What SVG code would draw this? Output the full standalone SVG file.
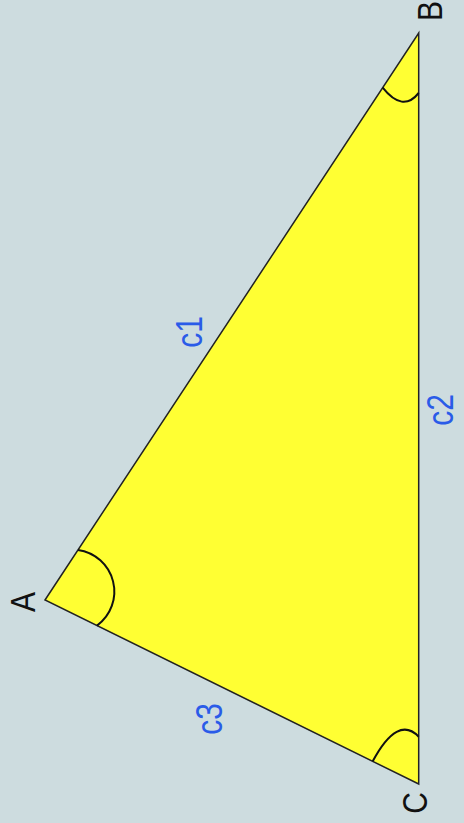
<svg xmlns="http://www.w3.org/2000/svg" width="464" height="823" viewBox="0 0 464 823">
<style>
.vl{font-family:"Liberation Sans",Arial,sans-serif;font-size:30px;fill:#111;text-anchor:middle}
.sl{font-family:"Liberation Sans",Arial,sans-serif;font-size:30px;fill:#2a5be8;text-anchor:middle}
.arc{fill:none;stroke:#111;stroke-width:2}
</style>
<rect width="464" height="823" fill="#cddcdf"/>
<g id="triangle">
<polygon points="45,600 418.7,33 418.7,784" fill="#ffff33" stroke="#222" stroke-width="1.5" stroke-linejoin="miter"/>
</g>
<g id="connectors">
<path class="arc" d="M78,550 A42,42 0 0 1 97,625.6"/>
<path class="arc" d="M382.7,87.7 Q402.7,112.9 418.7,93"/>
<path class="arc" d="M372.7,761.3 Q397.7,714.7 418.7,736.7"/>
</g>
<g id="A"><text class="vl" transform="translate(35,602) scale(1.15,1) rotate(-90)">A</text></g>
<g id="B"><text class="vl" transform="translate(442,11) scale(1.15,1) rotate(-90)">B</text></g>
<g id="C"><text class="vl" transform="translate(427,803) scale(1.15,1) rotate(-90)">C</text></g>
<g id="c1"><text class="sl" transform="translate(202,332) scale(1.2,1) rotate(-90)">c1</text></g>
<g id="c2"><text class="sl" transform="translate(453,410) scale(1.2,1) rotate(-90)">c2</text></g>
<g id="c3"><text class="sl" transform="translate(222,719) scale(1.2,1) rotate(-90)">c3</text></g>
</svg>
